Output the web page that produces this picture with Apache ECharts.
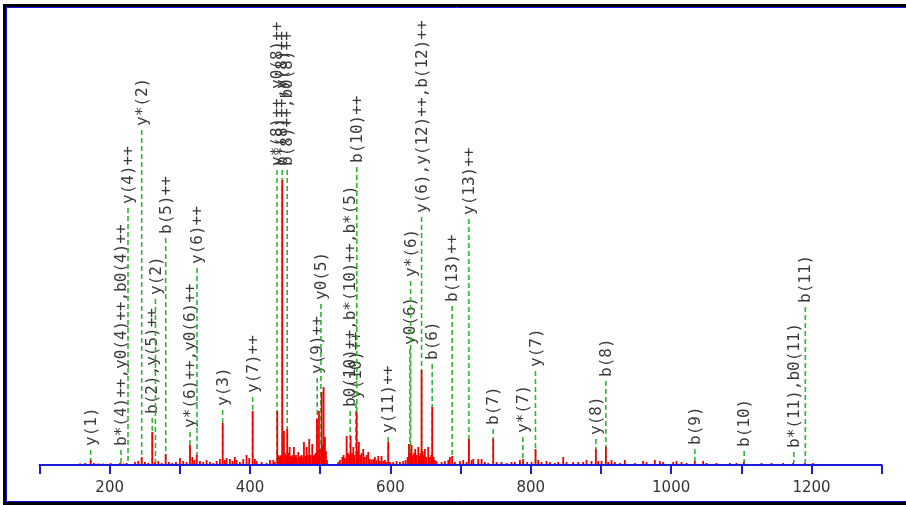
<!DOCTYPE html>
<html><head><meta charset="utf-8">
<script src="https://cdn.jsdelivr.net/npm/echarts@6/dist/echarts.min.js"></script>
<style>html,body{margin:0;padding:0;background:#fff}#c{width:906px;height:505px}</style>
</head><body><div id="c"></div>
<script>
// Peak list: m/z and intensity (arbitrary units)
const peakMz = [148.2,152.9,157.6,164.8,172.9,177.6,183.8,190.9,195.6,201.3,207.5,214.6,219.4,224.1,228.9,236.0,240.7,245.6,250.2,255.0,260.7,264.5,269.2,274.0,279.8,284.4,289.2,294.4,300.1,304.8,309.6,314.4,317.7,320.5,323.9,328.6,333.3,338.1,342.8,347.6,352.3,357.1,361.0,364.2,366.6,371.3,375.1,378.4,380.8,385.5,390.3,395.0,398.8,403.7,406.9,409.3,
416.5,423.6,428.4,433.1,435.5,
438.8,440.2,441.7,443.1,444.5,445.9,448.3,449.7,451.2,453.0,454.5,456.4,457.8,459.2,460.7,462.5,464.0,465.4,466.8,468.7,470.1,472.0,473.5,475.4,476.8,478.7,480.6,482.5,484.3,486.3,488.6,490.1,491.5,493.4,495.3,496.7,498.2,499.6,502.0,503.4,504.8,506.7,508.1,509.6,
525.7,528.1,531.4,533.3,535.2,537.6,539.5,541.4,543.3,545.2,547.1,549.0,551.8,553.7,555.1,557.0,558.9,561.3,563.7,566.1,568.4,570.8,573.2,575.6,577.9,580.3,582.7,585.0,587.4,589.8,592.2,594.5,596.9,599.3,604.0,608.8,613.5,618.3,621.6,
624.5,626.4,628.3,630.2,632.0,633.9,635.4,637.3,639.7,641.6,643.0,644.4,645.8,647.7,649.1,651.0,653.9,656.3,658.2,659.6,661.5,663.4,665.8,
672.9,677.6,682.4,684.7,688.0,691.9,699.0,703.7,708.5,711.8,715.6,718.0,725.1,729.9,734.6,739.3,746.5,751.2,758.3,765.5,772.6,777.3,784.5,789.2,794.9,801.1,806.8,810.6,815.3,822.4,827.2,834.3,839.1,846.2,850.9,860.4,867.5,874.7,879.4,886.5,892.7,896.0,900.8,907.0,910.3,915.0,919.8,926.9,
934.0,948.3,960.1,964.9,976.8,983.9,988.6,1002.9,1007.6,1014.7,1021.9,1033.7,1045.6,1050.3,1064.6,1083.6,1093.1,1103.5,1128.7,1142.9,1159.6,1173.8,1190.4,1202.3];
const peakIntensity = [1,1,1.5,2,5,2,1.5,1.5,1,2,1,2,1.5,2,1,3,4,8,3,2,33,3,4,2,11,3,2,3,7,4,3,20,8,5,10,4,3,5,3,2,4,6,42,5,7,6,4,8,5,3,6,10,7,54,6,4,
3,2,5,5,3,
54,10,8,9,10,285,34,12,10,36,12,18,9,8,10,18,8,10,7,13,8,9,10,8,23,9,18,10,26,10,21,9,10,12,46,14,54,16,73,20,78,28,14,5,
3,5,8,10,7,29,12,10,29,12,18,10,53,14,23,10,12,16,8,10,13,6,5,6,8,5,9,4,9,4,5,3,23,3,3,4,3,4,5,
8,21,12,20,10,12,16,10,18,9,12,95,14,10,16,8,18,8,10,58,8,5,4,
3,4,5,8,9,3,4,5,3,26,5,6,6,6,3,2,26,3,3,2,3,3,5,6,3,3,16,5,3,4,3,2,3,8,3,3,3,3,5,4,16,4,4,18,3,5,3,2,
5,2,4,3,5,4,3,3,4,3,2,4,4,2,2,2,2,3,2,2,2,2,2,2];

// Fragment annotations: m/z, label level (same units as intensity), text
const annMz = [172.9,216.1,226.1,245.6,260.7,265.2,279.8,314.4,324.4,361.0,403.7,438.4,445.9,453.0,495.7,501.0,542.7,550.9,552.1,596.9,627.8,628.8,644.4,659.5,688.0,711.8,746.5,788.7,806.7,892.7,907.0,1033.8,1104.0,1174.8,1191.2];
const annLevel = [19,19,261,339,51,170,231,37,201,59,72,299,299,299,91,165,58,66,302,32,120,188,252,105,163,250,40,32,98,30,88,20,18,17,162];
const annLabels = ["y(1)","b*(4)++,y0(4)++,b0(4)++","y(4)++","y*(2)","b(2),y(5)++","y(2)","b(5)++","y*(6)++,y0(6)++","y(6)++","y(3)","y(7)++","y*(8)++,y0(8)++","b*(8)++,y(8)++","b(8)++,b0(8)++","y(9)++","y0(5)","b0(10)++,b*(10)++,b*(5)","y(10)++","b(10)++","y(11)++","y0(6)","y*(6)","y(6),y(12)++,b(12)++","b(6)","b(13)++","y(13)++","b(7)","y*(7)","y(7)","y(8)","b(8)","b(9)","b(10)","b*(11),b0(11)","b(11)"];

const tickLabels = [200,400,600,800,1000,1200];

const chart = echarts.init(document.getElementById('c'), null, {renderer:'canvas'});
const blue = '#1c1cd8';
chart.setOption({
  animation:false,
  grid:{left:39.5, right:24.3, top:37.5, bottom:40},
  xAxis:{type:'value', min:100, max:1300, interval:100,
    axisLine:{lineStyle:{color:blue, width:2}},
    axisTick:{length:9, lineStyle:{color:blue, width:2}},
    axisLabel:{margin:16, color:'#333', fontSize:15, fontFamily:'DejaVu Sans',
      showMinLabel:true, showMaxLabel:true,
      formatter:v => tickLabels.includes(v) ? String(v) : ''},
    splitLine:{show:false}},
  yAxis:{type:'value', min:0, max:427.5, show:false},
  series:[
    {type:'custom', clip:false, z:2,
     data: annMz.map((m,i)=>[m, annLevel[i], i]),
     renderItem:(params, api)=>{
       const i = api.value(2);
       const base = api.coord([api.value(0), 0]);
       const top = api.coord([api.value(0), api.value(1)]);
       const x = base[0];
       return {type:'group', children:[
         {type:'line', shape:{x1:x, y1:top[1]+4, x2:x, y2:base[1]-2},
          style:{stroke:'#33b233', lineWidth:1.6, lineDash:[5,3]}},
         {type:'text', x:x+1, y:top[1], rotation:Math.PI/2,
          style:{text:annLabels[i], font:'16px "DejaVu Sans Mono"', fill:'#3a3a3a', align:'left', verticalAlign:'middle'}}
       ]};
     }},
    {type:'custom', clip:false, z:3,
     data: peakMz.map((m,i)=>[m, peakIntensity[i]]),
     renderItem:(params, api)=>{
       const base = api.coord([api.value(0), 0]);
       const top = api.coord([api.value(0), api.value(1)]);
       return {type:'line', shape:{x1:base[0], y1:base[1]-1, x2:top[0], y2:top[1]},
         style:{stroke:'#f00000', lineWidth:1.8}};
     }}
  ],
  graphic:[
    {type:'rect', z:100, silent:true, shape:{x:4.5, y:5.5, width:1000, height:498}, style:{fill:'none', stroke:'#000', lineWidth:3}},
    {type:'rect', z:100, silent:true, shape:{x:6.5, y:7.5, width:1000, height:494}, style:{fill:'none', stroke:'#1414e6', lineWidth:1}}
  ]
});
</script></body></html>
